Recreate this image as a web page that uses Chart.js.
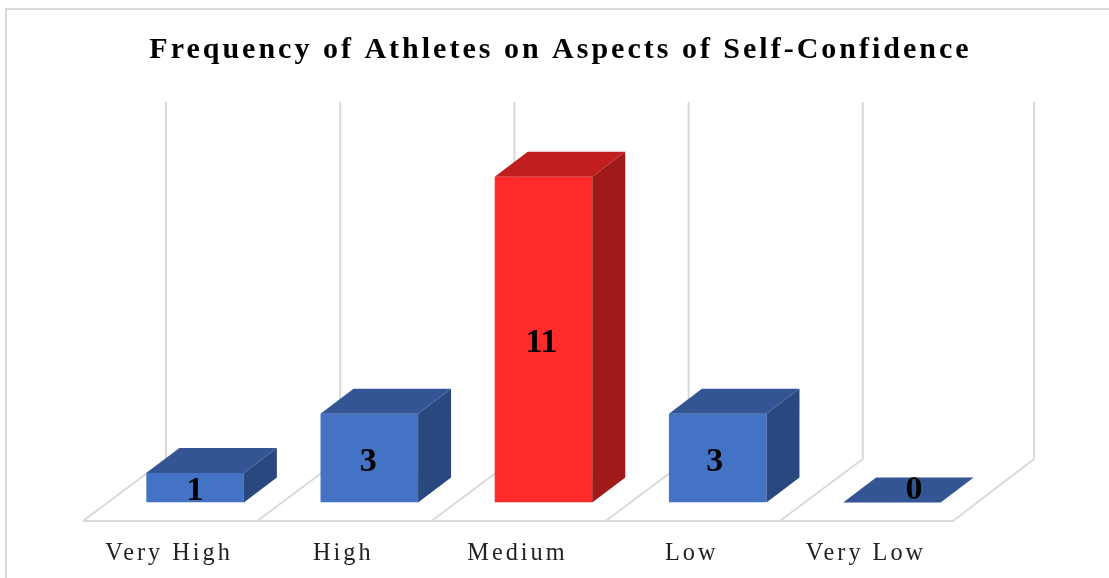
<!DOCTYPE html>
<html>
<head>
<meta charset="utf-8">
<title>Frequency of Athletes on Aspects of Self-Confidence</title>
<script src="https://cdn.jsdelivr.net/npm/chart.js@4"></script>
<style>
  html, body { margin: 0; padding: 0; background: #fff; overflow: hidden; }
  canvas { display: block; }
</style>
</head>
<body>
<canvas id="chart" width="1109" height="578"></canvas>
<script>
'use strict';

const categories = ['Very High', 'High', 'Medium', 'Low', 'Very Low'];
const frequency = [1, 3, 11, 3, 0];

const FONT = '"Liberation Serif", "Times New Roman", serif';
const GRID = '#d9d9d9';
const frontColors = ['#4472c4', '#4472c4', '#ff2a2a', '#4472c4', '#4472c4'];
const topColors = ['#335593', '#335593', '#c11f1f', '#335593', '#335593'];
const sideColors = ['#2a4880', '#2a4880', '#a11a1a', '#2a4880', '#2a4880'];

// small shifts so the value labels sit where Excel put them
const labelShift = [[0, 4], [-1, 4], [-2, 4], [-3, 4], [22, -12]];

const polygon = function(ctx, pts, color) {
    ctx.fillStyle = color;
    ctx.beginPath();
    pts.forEach((p, i) => i ? ctx.lineTo(p[0], p[1]) : ctx.moveTo(p[0], p[1]));
    ctx.closePath();
    ctx.fill();
};

// fake 3D: floor + back walls behind the bars, then top/side faces on each bar
const box3d = {
    id: 'box3d',
    afterLayout(chart) {
        chart.titleBlock.left += 17;
        chart.titleBlock.right += 17;
    },
    beforeDraw(chart) {
        const ctx = chart.ctx;
        ctx.letterSpacing = '3px';
        ctx.save();
        ctx.strokeStyle = GRID;
        ctx.lineWidth = 2;
        ctx.beginPath();
        ctx.moveTo(6, 578);
        ctx.lineTo(6, 9);
        ctx.lineTo(1109, 9);
        ctx.stroke();
        ctx.restore();
    },
    beforeDatasetsDraw(chart) {
        const ctx = chart.ctx;
        const x = chart.scales.x;
        const base = chart.scales.y.getPixelForValue(0);
        const step = x.getPixelForValue(1) - x.getPixelForValue(0);
        const left = x.getPixelForValue(0) - step / 2;
        const frontY = base + 18.5, backY = base - 43.5, wallTop = 102;

        ctx.save();
        ctx.strokeStyle = GRID;
        ctx.lineWidth = 2;
        ctx.beginPath();
        ctx.moveTo(left - 25, frontY);
        ctx.lineTo(left - 26 + step * categories.length, frontY);
        for (let i = 0; i <= categories.length; i++) {
            const last = i === categories.length;
            const fx = left - 25 + step * i - (last ? 1 : 0);
            const bx = fx + (last ? 81 : 83);
            ctx.moveTo(fx, frontY);
            ctx.lineTo(bx, backY);
            ctx.lineTo(bx, wallTop);
        }
        ctx.stroke();
        ctx.restore();
    },
    afterDatasetsDraw(chart) {
        const ctx = chart.ctx;
        const dx = 33, dy = 25;
        ctx.save();
        chart.getDatasetMeta(0).data.forEach((bar, i) => {
            const l = bar.x - bar.width / 2, r = bar.x + bar.width / 2;
            polygon(ctx, [[l, bar.y], [r, bar.y], [r + dx, bar.y - dy], [l + dx, bar.y - dy]], topColors[i]);
            if (frequency[i] > 0) {
                polygon(ctx, [[r, bar.y], [r + dx, bar.y - dy], [r + dx, bar.base - dy], [r, bar.base]], sideColors[i]);
            }
        });
        ctx.letterSpacing = '0px';
        ctx.fillStyle = '#000';
        ctx.font = 'bold 34px ' + FONT;
        ctx.textAlign = 'center';
        ctx.textBaseline = 'middle';
        chart.getDatasetMeta(0).data.forEach((bar, i) => {
            const mid = (bar.y + bar.base) / 2;
            ctx.fillText(String(frequency[i]), bar.x + labelShift[i][0], mid + labelShift[i][1]);
        });
        ctx.restore();
    }
};

new Chart(document.getElementById('chart'), {
    type: 'bar',
    data: {
        labels: categories,
        datasets: [{
            data: frequency,
            backgroundColor: frontColors,
            borderWidth: 0,
            categoryPercentage: 1,
            barPercentage: 0.56
        }]
    },
    plugins: [box3d],
    options: {
        responsive: false,
        animation: false,
        layout: { padding: { left: 108, right: 130 } },
        plugins: {
            legend: { display: false },
            tooltip: { enabled: false },
            title: {
                display: true,
                text: 'Frequency of Athletes on Aspects of Self-Confidence',
                color: '#000',
                font: { family: FONT, size: 30, weight: 'bold' },
                padding: { top: 32, bottom: 79 }
            }
        },
        scales: {
            x: {
                grid: { display: false },
                border: { display: false },
                afterFit(scale) { scale.height = 75.5; },
                ticks: {
                    color: '#222',
                    font: { family: FONT, size: 24.3 },
                    padding: 29,
                    labelOffset: -26,
                    maxRotation: 0
                }
            },
            y: {
                display: false,
                min: 0,
                max: 12
            }
        }
    }
});
</script>
</body>
</html>
